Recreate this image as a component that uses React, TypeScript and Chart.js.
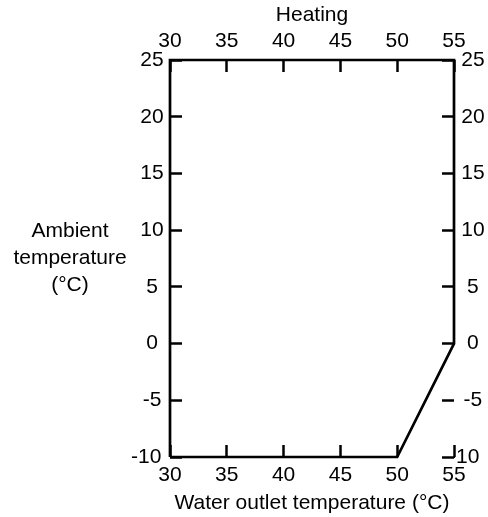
import React, { useEffect, useRef } from "react";
import { Chart, registerables } from "chart.js";

Chart.register(...registerables);

// Operating envelope (Heating)
const waterOutletTemp = [30, 30, 55, 55, 50, 30];
const ambientTemp = [-10, 25, 25, 0, -10, -10];

const xMin = 30;
const xMax = 55;
const xStep = 5;
const yMin = -10;
const yMax = 25;
const yStep = 5;

const topTitle = "Heating";
const bottomTitle = "Water outlet temperature (°C)";
const leftTitleLines = ["Ambient", "temperature", "(°C)"];

const FONT = '"Liberation Sans", Arial, sans-serif';
const FS = 21;

export default function App() {
  const ref = useRef<HTMLCanvasElement | null>(null);

  useEffect(() => {
    if (!ref.current) return;
    const points = waterOutletTemp.map((x, i) => ({ x, y: ambientTemp[i] }));

    const leftTitlePlugin = {
      id: "leftTitle",
      afterDraw(chart: any) {
        const { ctx, chartArea } = chart;
        const cy = (chartArea.top + chartArea.bottom) / 2;
        ctx.save();
        ctx.font = `${FS}px ${FONT}`;
        ctx.fillStyle = "#000";
        ctx.textAlign = "center";
        ctx.textBaseline = "middle";
        const lh = 27;
        const n = leftTitleLines.length;
        leftTitleLines.forEach((t, i) => {
          ctx.fillText(t, 70, cy + (i - (n - 1) / 2) * lh);
        });
        ctx.restore();
      },
    };

    const tickCommon = {
      color: "#000",
      font: { family: FONT, size: FS },
    };
    const gridCommon = {
      drawOnChartArea: false,
      drawTicks: true,
      tickLength: -12,
      tickWidth: 2.5,
      tickColor: "#000",
    };

    const chart = new Chart(ref.current, {
      type: "scatter",
      data: {
        datasets: [
          {
            data: points,
            showLine: true,
            borderColor: "#000",
            borderWidth: 2.7,
            pointRadius: 0,
            tension: 0,
            fill: false,
            clip: false as any,
          } as any,
        ],
      },
      options: {
        responsive: false,
        animation: false,
        events: [],
        layout: { padding: 0 },
        plugins: {
          legend: { display: false },
          tooltip: { enabled: false },
        },
        scales: {
          x: {
            type: "linear",
            position: "bottom",
            min: xMin,
            max: xMax,
            ticks: { ...tickCommon, stepSize: xStep, padding: 18, maxRotation: 0 },
            grid: gridCommon,
            border: { display: false },
            title: {
              display: true,
              text: bottomTitle,
              color: "#000",
              font: { family: FONT, size: FS },
              padding: { top: 0, bottom: 1 },
            },
            afterFit: (axis: any) => {
              axis.height = 60;
            },
          },
          x2: {
            type: "linear",
            position: "top",
            min: xMin,
            max: xMax,
            ticks: { ...tickCommon, stepSize: xStep, padding: 18, maxRotation: 0 },
            grid: gridCommon,
            border: { display: false },
            title: {
              display: true,
              text: topTitle,
              color: "#000",
              font: { family: FONT, size: FS },
              padding: { top: 3, bottom: 0 },
            },
            afterFit: (axis: any) => {
              axis.height = 60;
            },
          },
          y: {
            type: "linear",
            position: "left",
            min: yMin,
            max: yMax,
            ticks: {
              ...tickCommon,
              stepSize: yStep,
              padding: 9,
              crossAlign: "center",
              callback: (v: any) => (v === yMin ? `${v}  ` : `${v}`),
            },
            grid: gridCommon,
            border: { display: false },
            afterFit: (axis: any) => {
              axis.width = 170;
            },
          },
          y2: {
            type: "linear",
            position: "right",
            min: yMin,
            max: yMax,
            ticks: {
              ...tickCommon,
              stepSize: yStep,
              padding: 7,
              crossAlign: "center",
              callback: (v: any) => (v === yMin ? `${v}   ` : `${v}`),
            },
            grid: gridCommon,
            border: { display: false },
            afterFit: (axis: any) => {
              axis.width = 34;
            },
          },
        },
      } as any,
      plugins: [leftTitlePlugin],
    });

    return () => chart.destroy();
  }, []);

  return (
    <div style={{ position: "fixed", left: 0, top: 0, width: 488, height: 517, background: "#fff" }}>
      <canvas ref={ref} width={488} height={517} style={{ display: "block" }} />
    </div>
  );
}
